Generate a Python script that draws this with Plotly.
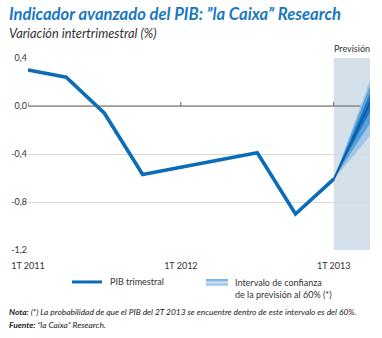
import plotly.graph_objects as go

# ---- data ----
quarters = ["1T 2011", "2T 2011", "3T 2011", "4T 2011", "1T 2012",
            "2T 2012", "3T 2012", "4T 2012", "1T 2013"]
pib = [0.30, 0.24, -0.06, -0.57, -0.51, -0.45, -0.39, -0.90, -0.61]

fc_x = [8, 9]  # 1T 2013 -> 2T 2013
fc_center = [-0.61, 0.06]
fc_outer_hi = [-0.61, 0.26]
fc_outer_lo = [-0.61, -0.23]
fc_mid_hi = [-0.61, 0.21]
fc_mid_lo = [-0.61, -0.12]
fc_inner_hi = [-0.61, 0.14]
fc_inner_lo = [-0.61, -0.02]

tick_x = [0, 4, 8]
tick_x_text = ["1T 2011", "1T 2012", "1T 2013"]
tick_y = [-1.2, -0.8, -0.4, 0.0, 0.4]
tick_y_text = ["-1,2", "-0,8", "-0,4", "0,0", "0,4"]

BLUE = "#0b6cb8"
FONT = "Lato, Open Sans, sans-serif"
xi = list(range(len(quarters)))

fig = go.Figure()

def band(lo, hi, color):
    fig.add_trace(go.Scatter(x=fc_x, y=lo, mode="lines", line=dict(width=0),
                             hoverinfo="skip", showlegend=False))
    fig.add_trace(go.Scatter(x=fc_x, y=hi, mode="lines", line=dict(width=0),
                             fill="tonexty", fillcolor=color,
                             hoverinfo="skip", showlegend=False))

band(fc_outer_lo, fc_outer_hi, "rgba(60,150,220,0.35)")
band(fc_mid_lo, fc_mid_hi, "rgba(20,120,205,0.5)")
band(fc_inner_lo, fc_inner_hi, "rgba(10,105,190,0.75)")
fig.add_trace(go.Scatter(x=fc_x, y=fc_center, mode="lines",
                         line=dict(color="#0a5fa8", width=2),
                         hoverinfo="skip", showlegend=False))

fig.add_trace(go.Scatter(x=xi, y=pib, mode="lines",
                         line=dict(color=BLUE, width=3.6),
                         showlegend=False))

shapes = [
    # forecast shading
    dict(type="rect", xref="x", yref="y", x0=8, x1=9.2, y0=-1.2, y1=0.4,
         fillcolor="#d4e1ea", line=dict(width=0), layer="below"),
    # zero line
    dict(type="line", xref="x", yref="y", x0=0, x1=8.7, y0=0, y1=0,
         line=dict(color="#606060", width=1)),
]
for tx in tick_x:
    shapes.append(dict(type="line", xref="x", yref="y", x0=tx, x1=tx,
                       y0=0, y1=0.035, line=dict(color="#606060", width=1)))

# legend (paper coords)
def px_x(p):
    return (p - 28) / 342.0

def px_y(p):
    return (250 - p) / 192.3

shapes.append(dict(type="line", xref="paper", yref="paper",
                   x0=px_x(72), x1=px_x(102), y0=px_y(282), y1=px_y(282),
                   line=dict(color=BLUE, width=3)))
shapes.append(dict(type="rect", xref="paper", yref="paper",
                   x0=px_x(206), x1=px_x(228), y0=px_y(286), y1=px_y(279),
                   fillcolor="#a8cdec", line=dict(width=0)))
shapes.append(dict(type="line", xref="paper", yref="paper",
                   x0=px_x(206), x1=px_x(228), y0=px_y(280), y1=px_y(280),
                   line=dict(color="#5a9fd8", width=1)))
shapes.append(dict(type="line", xref="paper", yref="paper",
                   x0=px_x(206), x1=px_x(228), y0=px_y(282.5), y1=px_y(282.5),
                   line=dict(color="#d6e8f6", width=1.2)))

annotations = [
    dict(text="<b><i>Indicador avanzado del PIB: ”la Caixa” Research</i></b>",
         xref="paper", yref="paper", x=px_x(7), y=px_y(14), xanchor="left",
         yanchor="middle", showarrow=False,
         font=dict(family=FONT, size=16.6, color="#1a78c2")),
    dict(text="<i>Variación intertrimestral (%)</i>",
         xref="paper", yref="paper", x=px_x(7), y=px_y(33), xanchor="left",
         yanchor="middle", showarrow=False,
         font=dict(family=FONT, size=12.8, color="#333333")),
    dict(text="Previsión", xref="paper", yref="paper", x=px_x(352),
         y=px_y(48), xanchor="center", yanchor="middle", showarrow=False,
         font=dict(family=FONT, size=9, color="#333333")),
    dict(text="PIB trimestral", xref="paper", yref="paper", x=px_x(108),
         y=px_y(282), xanchor="left", yanchor="middle", showarrow=False,
         font=dict(family=FONT, size=9, color="#333333")),
    dict(text="Intervalo de confianza<br>de la previsión al 60% (*)",
         xref="paper", yref="paper", x=px_x(233), y=px_y(289),
         xanchor="left", yanchor="middle", align="left", showarrow=False,
         font=dict(family=FONT, size=9, color="#333333")),
    dict(text="<b><i>Nota:</i></b><i> (*) La probabilidad de que el PIB del 2T 2013 se encuentre dentro de este intervalo es del 60%.</i>",
         xref="paper", yref="paper", x=px_x(7), y=px_y(312),
         xanchor="left", yanchor="middle", showarrow=False,
         font=dict(family=FONT, size=8.4, color="#222222")),
    dict(text="<b><i>Fuente:</i></b><i> ”la Caixa” Research.</i>",
         xref="paper", yref="paper", x=px_x(7), y=px_y(325),
         xanchor="left", yanchor="middle", showarrow=False,
         font=dict(family=FONT, size=8.4, color="#222222")),
]

fig.update_layout(
    width=382, height=338,
    margin=dict(l=28, r=12, t=58, b=88),
    paper_bgcolor="white", plot_bgcolor="white",
    showlegend=False,
    shapes=shapes, annotations=annotations,
    font=dict(family=FONT, size=9, color="#333333"),
    xaxis=dict(range=[0, 8.95], tickvals=tick_x, ticktext=tick_x_text,
               showgrid=False, zeroline=False, showline=False, ticks="",
               ticklabelstandoff=9,
               tickfont=dict(size=9, color="#333333")),
    yaxis=dict(range=[-1.2, 0.4], tickvals=tick_y, ticktext=tick_y_text,
               showgrid=True, gridcolor="#d9d9d9", gridwidth=1,
               zeroline=False, showline=False, ticks="",
               tickfont=dict(size=9, color="#333333")),
)

fig.write_html("out.html")
